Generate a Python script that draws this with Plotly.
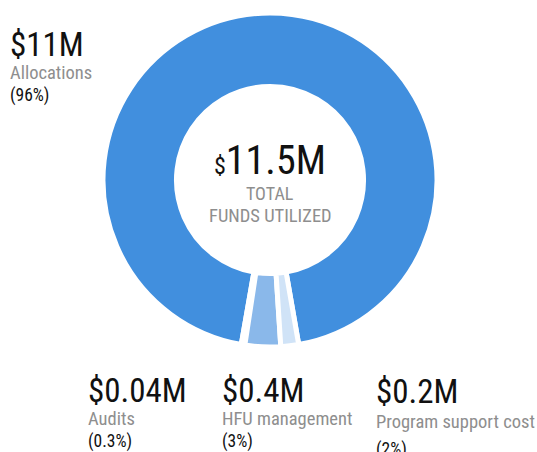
import plotly.graph_objects as go

# funds utilized, in $M
labels = ["Allocations", "Audits", "HFU management", "Program support cost"]
values = [11, 0.04, 0.4, 0.2]
amounts = ["$11M", "$0.04M", "$0.4M", "$0.2M"]
shares = ["(96%)", "(0.3%)", "(3%)", "(2%)"]
colors = ["#418fde", "#5c9fe3", "#8ab8ea", "#d0e3f7"]
total_text = "11.5M"

W, H = 537, 452
FONT = "Roboto Condensed, Roboto, sans-serif"
GRAY = "#8e8e8e"
BLACK = "#111111"


def px(x):
    return x / W


def py(y):
    return 1 - y / H


# pie centre and radius in pixels
cx, cy, r = 270, 180, 167
small = sum(values[1:]) / sum(values)

fig = go.Figure(go.Pie(
    labels=labels, values=values, hole=0.56, sort=False,
    direction="counterclockwise", rotation=180 + 360 * small / 2,
    marker=dict(colors=colors, line=dict(color="white", width=5)),
    textinfo="none", hoverinfo="label+value+percent",
    domain=dict(x=[px(cx - r), px(cx + r)], y=[py(cy + r), py(cy - r)]),
))

anns = []


def add(text, x, y, size, color, xanchor="left"):
    anns.append(dict(text=text, x=px(x), y=py(y), xref="paper", yref="paper",
                     xanchor=xanchor, yanchor="middle", showarrow=False,
                     font=dict(family=FONT, size=size, color=color)))


# label blocks: (x, y of amount, y of label, y of share)
blocks = [(8, 44, 73, 95), (86, 390, 419, 441), (220, 390, 419, 441),
          (374, 391, 422, 449)]
for (bx, ay, ly, sy), amt, lab, sh in zip(blocks, amounts, labels, shares):
    add(amt, bx, ay, 33, BLACK)
    add(lab, bx, ly, 18.5, GRAY)
    add(sh, bx, sy, 17.5, BLACK)

add('<span style="font-size:24px">$</span>' + total_text, cx, 160, 40, BLACK, "center")
add("TOTAL", cx, 193, 18, GRAY, "center")
add("FUNDS UTILIZED", cx, 216, 18.5, GRAY, "center")

fig.update_layout(width=W, height=H, margin=dict(l=0, r=0, t=0, b=0),
                  showlegend=False, paper_bgcolor="white", annotations=anns)
fig.write_html("out.html", config={"displayModeBar": False},
               post_script="document.body.style.margin='0';")
